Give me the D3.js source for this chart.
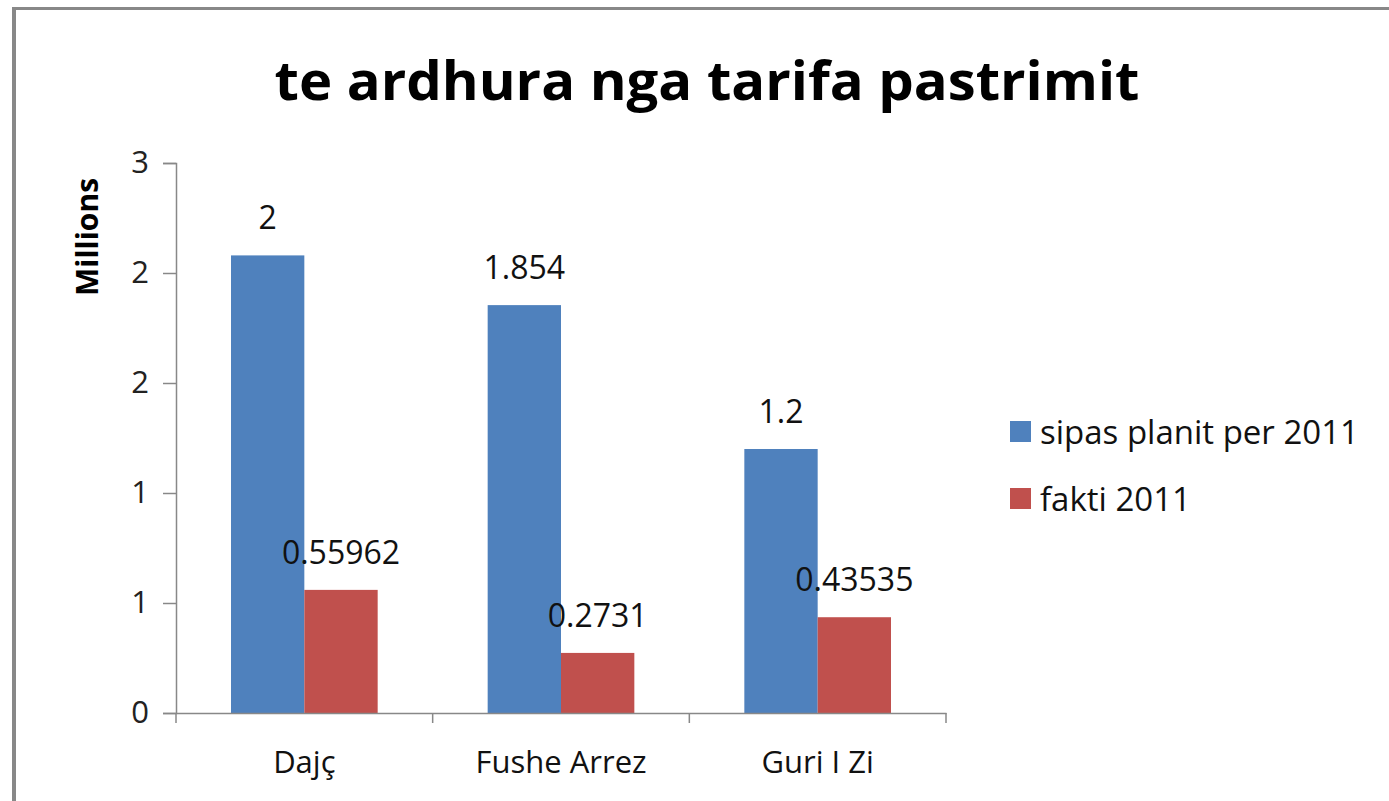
<!DOCTYPE html>
<html>
<head>
<meta charset="utf-8">
<script src="https://cdn.jsdelivr.net/npm/d3@7/dist/d3.min.js"></script>
<style>
  html, body { margin: 0; padding: 0; background: #fff; }
  svg { display: block; }
  text { font-family: "Open Sans", "DejaVu Sans", sans-serif; }
</style>
</head>
<body>
<svg id="chart" width="1389" height="801"></svg>
<script>
const categories = ["Dajç", "Fushe Arrez", "Guri I Zi"];
const seriesNames = ["sipas planit per 2011", "fakti 2011"];
const planValues = [2.08, 1.854, 1.2];
const factValues = [0.55962, 0.2731, 0.43535];
const planLabels = ["2", "1.854", "1.2"];
const factLabels = ["0.55962", "0.2731", "0.43535"];
const yTickValues = [0, 0.5, 1, 1.5, 2, 2.5];
const yTickLabels = ["0", "1", "1", "2", "2", "3"];
const colors = ["#4F81BD", "#C0504D"];

const svg = d3.select("#chart");

// outer chart border (top + left visible)
svg.append("line").attr("x1", 12).attr("x2", 1389).attr("y1", 8.5).attr("y2", 8.5)
  .attr("stroke", "#888").attr("stroke-width", 3);
svg.append("line").attr("x1", 14).attr("x2", 14).attr("y1", 7).attr("y2", 801)
  .attr("stroke", "#888").attr("stroke-width", 4);

// title
svg.append("text")
  .attr("x", 707).attr("y", 100)
  .attr("text-anchor", "middle")
  .attr("font-size", 54).attr("font-weight", "bold")
  .attr("fill", "#000")
  .attr("textLength", 865).attr("lengthAdjust", "spacingAndGlyphs")
  .text("te ardhura nga tarifa pastrimit");

const pLeft = 176, pRight = 946, pTop = 163, pBottom = 713;

const x0 = d3.scaleBand().domain(categories).range([pLeft, pRight]).paddingInner(0).paddingOuter(0);
const x1 = d3.scaleBand().domain(seriesNames).range([0, x0.bandwidth()]).paddingInner(0).paddingOuter(0.75);
const y = d3.scaleLinear().domain([0, 2.5]).range([pBottom, pTop]);

const data = categories.map((c, i) => ({
  cat: c,
  vals: [
    { s: seriesNames[0], v: planValues[i], label: planLabels[i], color: colors[0] },
    { s: seriesNames[1], v: factValues[i], label: factLabels[i], color: colors[1] }
  ]
}));

// bars
const groups = svg.append("g").selectAll("g").data(data).join("g")
  .attr("transform", d => `translate(${x0(d.cat)},0)`);

groups.selectAll("rect").data(d => d.vals).join("rect")
  .attr("x", d => x1(d.s))
  .attr("y", d => y(d.v))
  .attr("width", x1.bandwidth())
  .attr("height", d => y(0) - y(d.v))
  .attr("fill", d => d.color);

// data labels
groups.selectAll("text").data(d => d.vals).join("text")
  .attr("x", d => x1(d.s) + x1.bandwidth() / 2)
  .attr("y", d => y(d.v) - 26)
  .attr("text-anchor", "middle")
  .attr("font-size", 32)
  .attr("fill", "#111")
  .text(d => d.label);

// y axis
const yAxis = d3.axisLeft(y).tickValues(yTickValues)
  .tickFormat((d, i) => yTickLabels[i]).tickSize(13).tickPadding(14);
const gy = svg.append("g").attr("transform", `translate(${pLeft},0)`).call(yAxis);
gy.select(".domain").attr("stroke", "#888").attr("stroke-width", 1.5);
gy.selectAll(".tick line").attr("stroke", "#888").attr("stroke-width", 1.5);
gy.selectAll(".tick text").attr("font-size", 31).attr("fill", "#222")
  .attr("font-family", "'Open Sans', sans-serif");

// x axis
const xAxis = d3.axisBottom(x0).tickSize(0).tickPadding(38);
const gx = svg.append("g").attr("transform", `translate(0,${pBottom})`).call(xAxis);
gx.select(".domain").attr("stroke", "#888").attr("stroke-width", 1.5);
gx.selectAll(".tick text").attr("font-size", 31).attr("fill", "#111")
  .attr("font-family", "'Open Sans', sans-serif");
// category boundary ticks
const boundaries = categories.map(c => x0(c)).concat([x0(categories[categories.length - 1]) + x0.bandwidth()]);
gx.selectAll(".bound").data(boundaries).join("line").attr("class", "bound")
  .attr("x1", d => d).attr("x2", d => d).attr("y1", 0).attr("y2", 10)
  .attr("stroke", "#888").attr("stroke-width", 1.5);

// y axis title
svg.append("text")
  .attr("transform", "translate(98,237) rotate(-90)")
  .attr("text-anchor", "middle")
  .attr("font-size", 30).attr("font-weight", "bold").attr("fill", "#000")
  .text("Millions");

// legend
const legend = svg.append("g").selectAll("g").data(seriesNames).join("g")
  .attr("transform", (d, i) => `translate(1010,${421 + i * 67})`);
legend.append("rect").attr("width", 21).attr("height", 21).attr("fill", (d, i) => colors[i]);
legend.append("text").attr("x", 30).attr("y", 11).attr("dy", "0.35em")
  .attr("font-size", 33).attr("fill", "#111").text(d => d);
</script>
</body>
</html>
